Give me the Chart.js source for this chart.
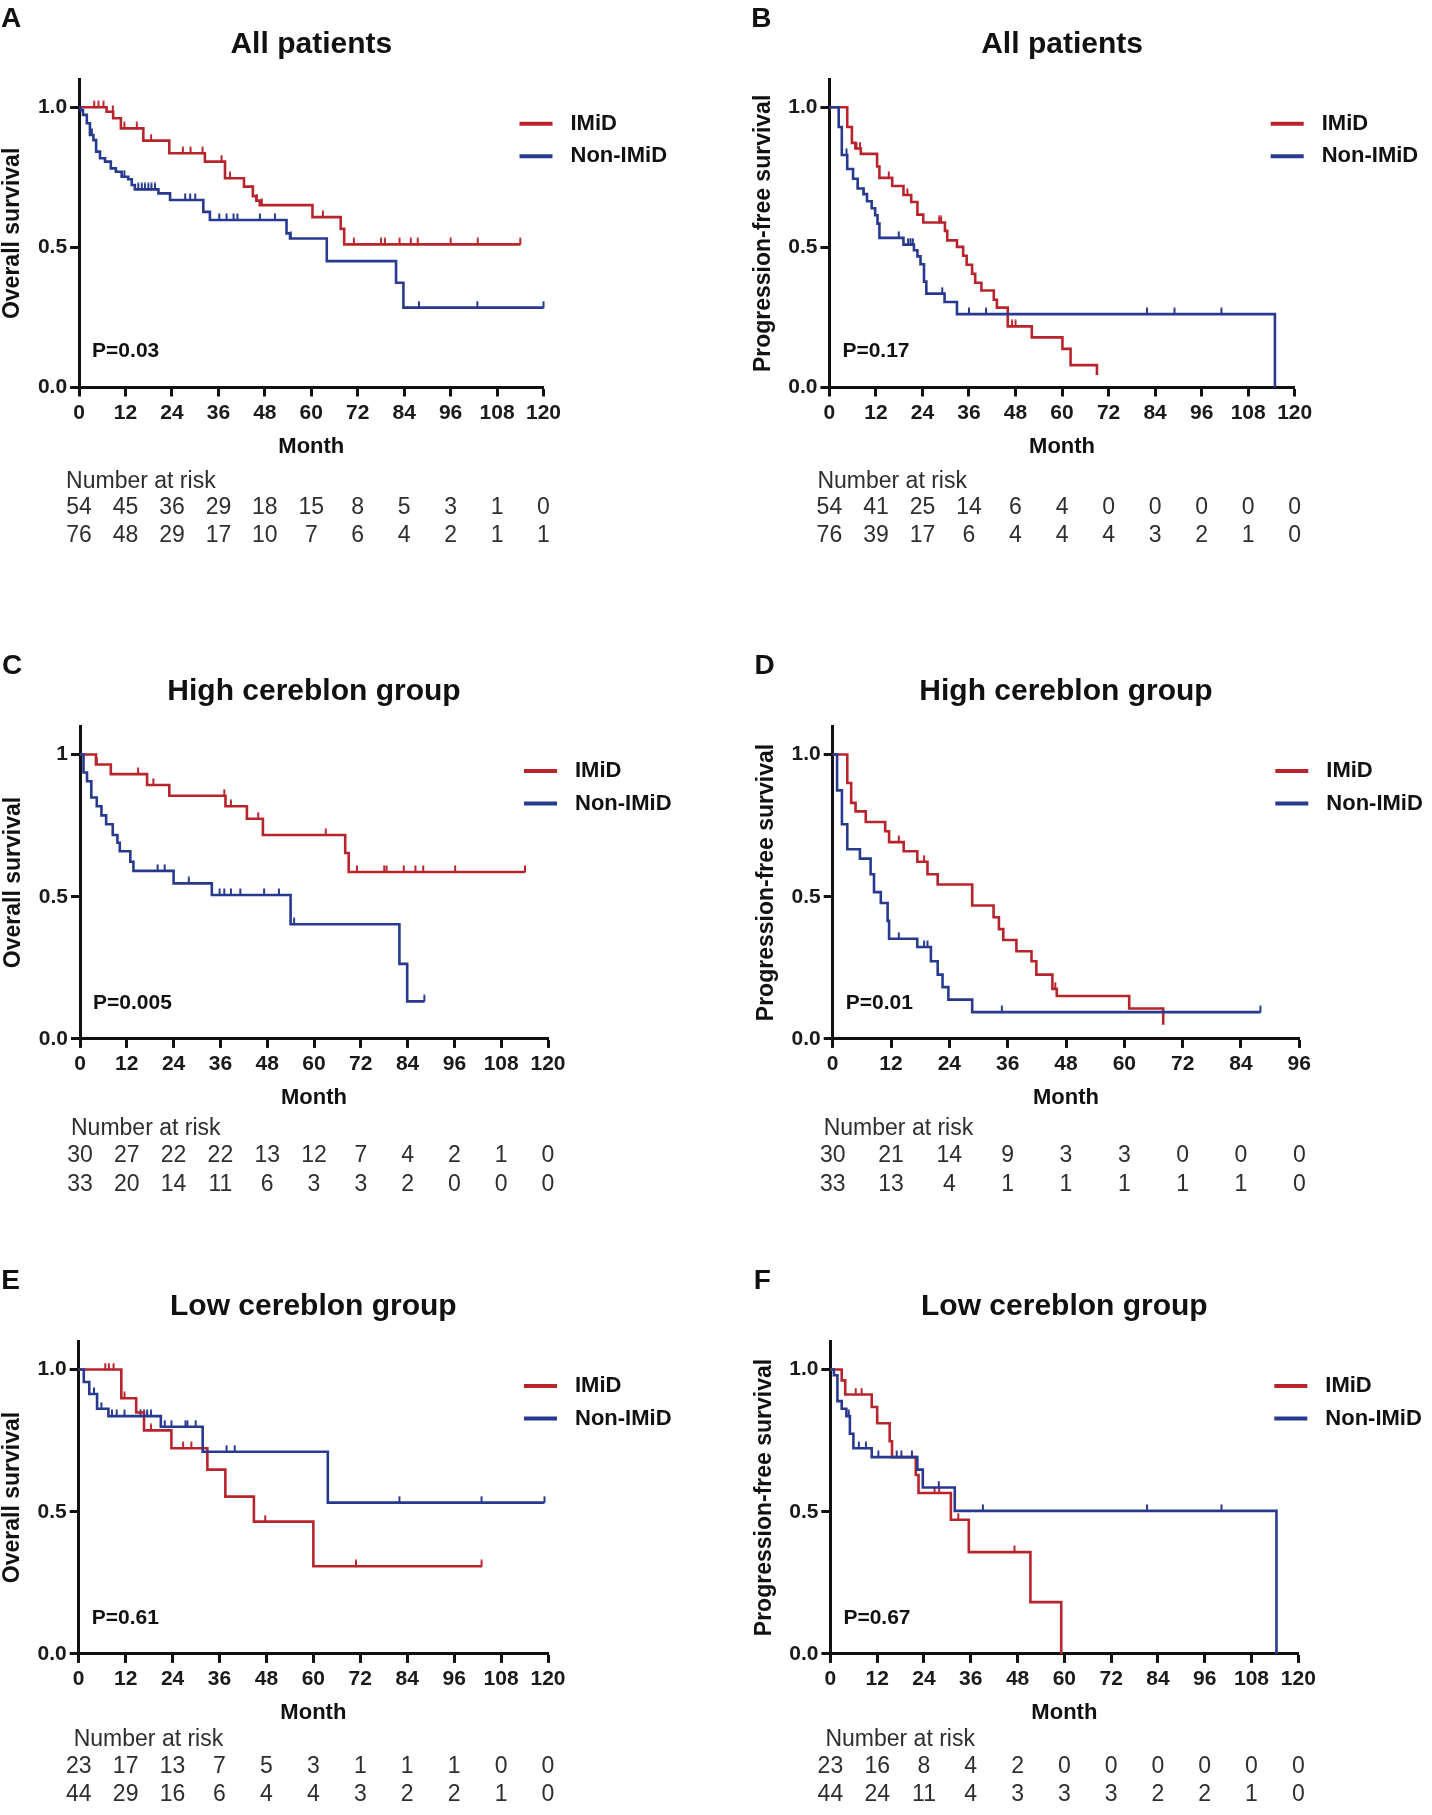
<!DOCTYPE html>
<html>
<head>
<meta charset="utf-8">
<script src="https://cdn.jsdelivr.net/npm/chart.js@4.4.1/dist/chart.umd.min.js"></script>
<style>
    html, body { margin: 0; padding: 0; background: #fff; }
    #fig { position: relative; width: 1432px; height: 1815px; background: #fff; }
    #fig canvas { position: absolute; }
</style>
</head>
<body>
<div id="fig"></div>
<script>
// ---- data (months / survival fraction) ----
const X_TICKS_120 = [0, 12, 24, 36, 48, 60, 72, 84, 96, 108, 120];
const X_TICKS_96 = [0, 12, 24, 36, 48, 60, 72, 84, 96];
const Y_TICKS = [0, 0.5, 1];
const Y_TICK_LABELS = ['0.0', '0.5', '1.0'];
const Y_TICK_LABELS_C = ['0.0', '0.5', '1'];
const LETTERS = ['A', 'B', 'C', 'D', 'E', 'F'];
const TITLES = ['All patients', 'All patients', 'High cereblon group', 'High cereblon group', 'Low cereblon group', 'Low cereblon group'];
const Y_TITLES = ['Overall survival', 'Progression-free survival', 'Overall survival', 'Progression-free survival', 'Overall survival', 'Progression-free survival'];
const P_VALUES = ['P=0.03', 'P=0.17', 'P=0.005', 'P=0.01', 'P=0.61', 'P=0.67'];
const SERIES = ['IMiD', 'Non-IMiD'];

// A - OS, all patients
const A_IMID_T = [0, 7.1, 8.8, 10.8, 16.6, 23.3, 32.5, 37.7, 42.6, 44.9, 45.8, 46.7, 60.3, 67.6, 68.5, 114];
const A_IMID_S = [1, 0.984, 0.961, 0.925, 0.881, 0.836, 0.806, 0.747, 0.717, 0.683, 0.667, 0.651, 0.608, 0.566, 0.511, 0.511];
const A_IMID_CENS = [3.9, 5.0, 6.3, 8.7, 11.7, 14.9, 18.6, 26.8, 28.8, 31.9, 36.8, 39.0, 45.9, 47.2, 63, 71, 78, 79, 82.8, 85.7, 87.5, 96, 103, 114];
const A_NON_T = [0, 0.4, 1.0, 2.0, 2.8, 3.7, 4.4, 5.4, 6.7, 8.2, 9.5, 11.0, 12.7, 13.6, 14.4, 20.5, 23.5, 32.1, 33.8, 53.6, 54.5, 64.0, 81.9, 83.8, 120];
const A_NON_S = [1, 0.99, 0.973, 0.943, 0.901, 0.883, 0.842, 0.818, 0.806, 0.782, 0.770, 0.752, 0.743, 0.723, 0.707, 0.693, 0.669, 0.627, 0.598, 0.550, 0.532, 0.451, 0.374, 0.285, 0.285];
const A_NON_CENS = [3.3, 11.7, 15.3, 16.2, 17.0, 17.9, 18.7, 19.6, 27.4, 28.7, 30.0, 36.2, 38.1, 39.9, 40.9, 46.7, 50.6, 54.7, 87.8, 102.9, 120];
const A_RISK_IMID = [54, 45, 36, 29, 18, 15, 8, 5, 3, 1, 0];
const A_RISK_NON = [76, 48, 29, 17, 10, 7, 6, 4, 2, 1, 1];

// B - PFS, all patients
const B_IMID_T = [0, 4.6, 5.8, 6.7, 8.1, 12.3, 12.9, 16.2, 19.1, 21.1, 22.7, 24.2, 29.8, 30.4, 32.9, 34.5, 35.4, 36.8, 37.6, 39.2, 42.4, 43.2, 46.0, 52.2, 60.1, 62.2, 69.0];
const B_IMID_S = [1, 0.93, 0.873, 0.853, 0.834, 0.789, 0.748, 0.719, 0.687, 0.662, 0.617, 0.589, 0.559, 0.525, 0.502, 0.47, 0.438, 0.406, 0.374, 0.346, 0.313, 0.285, 0.218, 0.179, 0.138, 0.08, 0.045];
const B_IMID_CENS = [7.0, 7.9, 15.3, 20.1, 28.3, 28.8, 32.9, 47.1, 48.0];
const B_NON_T = [0, 2.4, 3.2, 4.6, 6.1, 7.3, 8.8, 9.7, 10.9, 11.8, 12.4, 12.9, 19.1, 21.8, 22.7, 23.5, 24.4, 25.0, 29.7, 32.9, 114.9];
const B_NON_S = [1, 0.93, 0.83, 0.78, 0.745, 0.71, 0.69, 0.665, 0.64, 0.615, 0.585, 0.534, 0.51, 0.49, 0.468, 0.44, 0.378, 0.335, 0.305, 0.262, 0];
const B_NON_CENS = [4.4, 7.3, 8.8, 17.9, 20.3, 20.9, 21.5, 29.1, 36.0, 40.4, 81.9, 89.0, 101.1];
const B_RISK_IMID = [54, 41, 25, 14, 6, 4, 0, 0, 0, 0, 0];
const B_RISK_NON = [76, 39, 17, 6, 4, 4, 4, 3, 2, 1, 0];

// C - OS, high cereblon
const C_IMID_T = [0, 4.1, 7.9, 17.2, 22.9, 37.3, 42.8, 46.9, 68.0, 68.9, 114];
const C_IMID_S = [1, 0.965, 0.931, 0.893, 0.855, 0.818, 0.774, 0.717, 0.654, 0.587, 0.587];
const C_IMID_CENS = [4.3, 14.9, 18.8, 37.0, 38.7, 45.7, 63.0, 71.0, 78.0, 78.6, 83.0, 86.0, 88.0, 96.2, 114.1];
const C_NON_T = [0, 0.9, 1.8, 2.9, 4.3, 5.5, 6.7, 8.4, 9.6, 10.2, 12.9, 13.7, 24.0, 33.8, 54.0, 81.9, 83.9, 88.3];
const C_NON_S = [1, 0.937, 0.906, 0.849, 0.818, 0.786, 0.755, 0.717, 0.69, 0.66, 0.623, 0.591, 0.547, 0.506, 0.403, 0.264, 0.132, 0.132];
const C_NON_CENS = [19.9, 21.7, 27.9, 35.8, 37.0, 38.7, 41.1, 47.2, 51.0, 54.9, 88.3];
const C_RISK_IMID = [30, 27, 22, 22, 13, 12, 7, 4, 2, 1, 0];
const C_RISK_NON = [33, 20, 14, 11, 6, 3, 3, 2, 0, 0, 0];

// D - PFS, high cereblon
const D_IMID_T = [0, 3.0, 3.8, 4.7, 6.8, 10.8, 11.6, 14.6, 17.4, 19.5, 21.6, 28.7, 33.1, 34.2, 35.1, 37.8, 40.9, 41.9, 45.2, 46.1, 61.0, 68.0];
const D_IMID_S = [1, 0.9, 0.83, 0.8, 0.763, 0.73, 0.692, 0.66, 0.623, 0.579, 0.543, 0.469, 0.428, 0.386, 0.348, 0.308, 0.273, 0.226, 0.176, 0.151, 0.107, 0.05];
const D_IMID_CENS = [13.6, 18.8, 45.8];
const D_NON_T = [0, 0.9, 1.9, 3.0, 5.6, 7.8, 8.5, 9.9, 11.3, 11.6, 17.4, 20.2, 21.6, 22.6, 23.8, 28.7, 88.0];
const D_NON_S = [1, 0.874, 0.755, 0.667, 0.634, 0.579, 0.516, 0.478, 0.415, 0.352, 0.323, 0.273, 0.226, 0.182, 0.138, 0.094, 0.094];
const D_NON_CENS = [13.6, 18.8, 19.5, 34.8, 88.0];
const D_RISK_IMID = [30, 21, 14, 9, 3, 3, 0, 0, 0];
const D_RISK_NON = [33, 13, 4, 1, 1, 1, 1, 1, 0];

// E - OS, low cereblon
const E_IMID_T = [0, 10.9, 14.7, 16.7, 23.7, 32.9, 37.5, 44.8, 60.0, 103];
const E_IMID_S = [1, 0.899, 0.849, 0.786, 0.723, 0.648, 0.553, 0.465, 0.308, 0.308];
const E_IMID_CENS = [6.8, 7.7, 8.9, 11.7, 18.5, 26.7, 28.8, 47.7, 70.9, 103];
const E_NON_T = [0, 1.3, 2.7, 4.7, 7.6, 21.0, 31.7, 63.7, 119];
const E_NON_S = [1, 0.956, 0.914, 0.862, 0.836, 0.799, 0.711, 0.532, 0.532];
const E_NON_CENS = [3.9, 5.8, 8.5, 9.7, 11.7, 15.8, 16.7, 17.5, 18.5, 22.0, 23.7, 27.3, 27.8, 29.9, 37.8, 39.9, 82.0, 103.0, 119.1];
const E_RISK_IMID = [23, 17, 13, 7, 5, 3, 1, 1, 1, 0, 0];
const E_RISK_NON = [44, 29, 16, 6, 4, 4, 3, 2, 2, 1, 0];

// F - PFS, low cereblon
const F_IMID_T = [0, 2.9, 3.8, 10.6, 12.0, 15.2, 15.8, 21.9, 22.6, 30.9, 35.5, 51.3, 59.2];
const F_IMID_S = [1, 0.962, 0.912, 0.868, 0.811, 0.748, 0.692, 0.629, 0.566, 0.472, 0.358, 0.182, 0];
const F_IMID_CENS = [6.5, 8.0, 26.7, 27.9, 32.8, 47.2];
const F_NON_T = [0, 0.9, 1.8, 2.9, 4.1, 5.0, 5.9, 10.6, 22.3, 23.7, 31.9, 114.4];
const F_NON_S = [1, 0.98, 0.889, 0.862, 0.836, 0.774, 0.723, 0.692, 0.648, 0.585, 0.503, 0];
const F_NON_CENS = [4.7, 7.3, 9.1, 12.3, 15.8, 17.0, 18.2, 20.9, 27.8, 39.1, 81.2, 100.3];
const F_RISK_IMID = [23, 16, 8, 4, 2, 0, 0, 0, 0, 0, 0];
const F_RISK_NON = [44, 24, 11, 4, 3, 3, 3, 2, 2, 1, 0];

// ---- styling / layout ----
const FONT = '"Liberation Sans", Arial, Helvetica, sans-serif';
const RED = '#b8242c';
const BLUE = '#283a8f';
const Y_AXIS_W = 45;
const X_AXIS_H = 40;

// canvas rect and plot rect in page pixels, plus risk table offsets
const LAYOUT = [
    { cx: 0,   cy: 0,    ch: 600, l: 79.1,  r: 543.5,  t: 79.3,   b: 387.5,  riskLeft: -13,  rows: [94, 120, 148.5] },
    { cx: 716, cy: 0,    ch: 600, l: 829.4, r: 1294.7, t: 79.3,   b: 387.5,  riskLeft: -12,  rows: [94, 120, 148.5] },
    { cx: 0,   cy: 640,  ch: 575, l: 80,    r: 548,    t: 726.1,  b: 1038.9, riskLeft: -9,   rows: [90, 117, 146] },
    { cx: 716, cy: 640,  ch: 575, l: 832.7, r: 1299.3, t: 726.1,  b: 1038.9, riskLeft: -9,   rows: [90, 117, 146] },
    { cx: 0,   cy: 1255, ch: 560, l: 78.7,  r: 548,    t: 1341.1, b: 1653.9, riskLeft: -5,   rows: [85.5, 112.5, 141] },
    { cx: 716, cy: 1255, ch: 560, l: 830.4, r: 1298.3, t: 1341.1, b: 1653.9, riskLeft: -5,   rows: [85.5, 112.5, 141] }
];

const PANEL_DATA = [
    { xMax: 120, xTicks: X_TICKS_120, yLabels: Y_TICK_LABELS,   imid: [A_IMID_T, A_IMID_S, A_IMID_CENS], non: [A_NON_T, A_NON_S, A_NON_CENS], risk: [A_RISK_IMID, A_RISK_NON] },
    { xMax: 120, xTicks: X_TICKS_120, yLabels: Y_TICK_LABELS,   imid: [B_IMID_T, B_IMID_S, B_IMID_CENS], non: [B_NON_T, B_NON_S, B_NON_CENS], risk: [B_RISK_IMID, B_RISK_NON] },
    { xMax: 120, xTicks: X_TICKS_120, yLabels: Y_TICK_LABELS_C, imid: [C_IMID_T, C_IMID_S, C_IMID_CENS], non: [C_NON_T, C_NON_S, C_NON_CENS], risk: [C_RISK_IMID, C_RISK_NON] },
    { xMax: 96,  xTicks: X_TICKS_96,  yLabels: Y_TICK_LABELS,   imid: [D_IMID_T, D_IMID_S, D_IMID_CENS], non: [D_NON_T, D_NON_S, D_NON_CENS], risk: [D_RISK_IMID, D_RISK_NON] },
    { xMax: 120, xTicks: X_TICKS_120, yLabels: Y_TICK_LABELS,   imid: [E_IMID_T, E_IMID_S, E_IMID_CENS], non: [E_NON_T, E_NON_S, E_NON_CENS], risk: [E_RISK_IMID, E_RISK_NON] },
    { xMax: 120, xTicks: X_TICKS_120, yLabels: Y_TICK_LABELS,   imid: [F_IMID_T, F_IMID_S, F_IMID_CENS], non: [F_NON_T, F_NON_S, F_NON_CENS], risk: [F_RISK_IMID, F_RISK_NON] }
];

// survival value of a step curve at time t
function survAt(T, S, t) {
    let v = S[0];
    for (let i = 0; i < T.length; i++) {
        if (T[i] <= t) v = S[i];
    }
    return v;
}

// small upward tick used as censor mark
function censorMark(color) {
    const c = document.createElement('canvas');
    c.width = 6;
    c.height = 14;
    const g = c.getContext('2d');
    g.strokeStyle = color;
    g.lineWidth = 2;
    g.beginPath();
    g.moveTo(3, 0.5);
    g.lineTo(3, 7.5);
    g.stroke();
    return c;
}

// titles, legend, p-value and number-at-risk table
const kmDecor = {
    id: 'kmDecor',
    afterDraw(chart, args, o) {
        const ctx = chart.ctx;
        const ca = chart.chartArea;
        const xs = chart.scales.x;
        const ys = chart.scales.y;
        const y1 = ys.getPixelForValue(1);
        const y0 = ys.getPixelForValue(0);
        const cx = (ca.left + ca.right) / 2;

        ctx.save();
        ctx.fillStyle = '#111';
        ctx.textBaseline = 'middle';
        ctx.textAlign = 'center';

        ctx.font = 'bold 28px ' + FONT;
        ctx.fillText(o.letter, ca.left - 68, y1 - 88);

        ctx.font = 'bold 30px ' + FONT;
        ctx.fillText(o.title, cx, y1 - 62.6);

        ctx.font = 'bold 22px ' + FONT;
        ctx.fillText('Month', cx, y0 + 59.3);

        ctx.save();
        ctx.translate(ca.left - 66, (ca.top + ca.bottom) / 2);
        ctx.rotate(-Math.PI / 2);
        ctx.font = 'bold 23px ' + FONT;
        ctx.fillText(o.yTitle, 0, 0);
        ctx.restore();

        ctx.textAlign = 'left';
        ctx.font = 'bold 21px ' + FONT;
        ctx.fillText(o.p, ca.left + 13, y0 - 36);

        // legend
        SERIES.forEach((name, i) => {
            const ly = y1 + 16.5 + i * 32.5;
            ctx.strokeStyle = i === 0 ? RED : BLUE;
            ctx.lineWidth = 4;
            ctx.beginPath();
            ctx.moveTo(ca.right - 24, ly);
            ctx.lineTo(ca.right + 9, ly);
            ctx.stroke();
            ctx.fillStyle = '#111';
            ctx.font = 'bold 22px ' + FONT;
            ctx.fillText(name, ca.right + 27, ly);
        });

        // number at risk
        ctx.fillStyle = '#2e2e2e';
        ctx.font = '23px ' + FONT;
        ctx.fillText('Number at risk', ca.left + o.riskLeft, y0 + o.rows[0]);
        ctx.textAlign = 'center';
        o.risk.forEach((row, r) => {
            row.forEach((n, i) => {
                ctx.fillText(String(n), xs.getPixelForValue(o.xTicks[i]), y0 + o.rows[r + 1]);
            });
        });
        ctx.restore();
    }
};

const fig = document.getElementById('fig');
const redMark = censorMark(RED);
const blueMark = censorMark(BLUE);

PANEL_DATA.forEach((pd, k) => {
    const lay = LAYOUT[k];
    const canvas = document.createElement('canvas');
    canvas.width = 716;
    canvas.height = lay.ch;
    canvas.style.left = lay.cx + 'px';
    canvas.style.top = lay.cy + 'px';
    canvas.style.width = '716px';
    canvas.style.height = lay.ch + 'px';
    fig.appendChild(canvas);

    const curve = (series, color) => ({
        type: 'line',
        data: series[0].map((t, i) => ({ x: t, y: series[1][i] })),
        borderColor: color,
        borderWidth: 2.6,
        stepped: true,
        pointRadius: 0,
        fill: false,
        clip: 6
    });
    const cens = (series, color, mark) => ({
        type: 'scatter',
        data: series[2].map(t => ({ x: t, y: survAt(series[0], series[1], t) })),
        pointStyle: mark,
        pointRadius: 5,
        borderColor: color,
        backgroundColor: color,
        showLine: false,
        clip: 10
    });

    new Chart(canvas, {
        type: 'line',
        data: {
            datasets: [
                curve(pd.non, BLUE),
                curve(pd.imid, RED),
                cens(pd.non, BLUE, blueMark),
                cens(pd.imid, RED, redMark)
            ]
        },
        options: {
            responsive: false,
            animation: false,
            devicePixelRatio: 1,
            layout: {
                padding: {
                    left: lay.l - lay.cx - Y_AXIS_W,
                    right: lay.cx + 716 - lay.r,
                    top: lay.t - lay.cy,
                    bottom: lay.cy + lay.ch - lay.b - X_AXIS_H
                }
            },
            plugins: {
                legend: { display: false },
                tooltip: { enabled: false },
                kmDecor: {
                    letter: LETTERS[k],
                    title: TITLES[k],
                    yTitle: Y_TITLES[k],
                    p: P_VALUES[k],
                    risk: pd.risk,
                    xTicks: pd.xTicks,
                    riskLeft: lay.riskLeft,
                    rows: lay.rows
                }
            },
            scales: {
                x: {
                    type: 'linear',
                    min: 0,
                    max: pd.xMax,
                    afterBuildTicks: axis => { axis.ticks = pd.xTicks.map(v => ({ value: v })); },
                    afterFit: axis => { axis.height = X_AXIS_H; },
                    grid: { display: true, drawOnChartArea: false, drawTicks: true, tickLength: 9, tickWidth: 3, tickColor: '#111' },
                    border: { display: true, color: '#111', width: 3 },
                    ticks: {
                        color: '#1a1a1a',
                        font: { family: FONT, size: 21, weight: 'bold' },
                        padding: 4,
                        maxRotation: 0,
                        autoSkip: false
                    }
                },
                y: {
                    type: 'linear',
                    min: 0,
                    max: 1.1,
                    afterBuildTicks: axis => { axis.ticks = Y_TICKS.map(v => ({ value: v })); },
                    afterFit: axis => { axis.width = Y_AXIS_W; },
                    grid: { display: true, drawOnChartArea: false, drawTicks: true, tickLength: 9, tickWidth: 3, tickColor: '#111' },
                    border: { display: true, color: '#111', width: 3 },
                    ticks: {
                        color: '#1a1a1a',
                        font: { family: FONT, size: 21, weight: 'bold' },
                        padding: 3,
                        callback: value => pd.yLabels[Y_TICKS.indexOf(value)]
                    }
                }
            }
        },
        plugins: [kmDecor]
    });
});
</script>
</body>
</html>
